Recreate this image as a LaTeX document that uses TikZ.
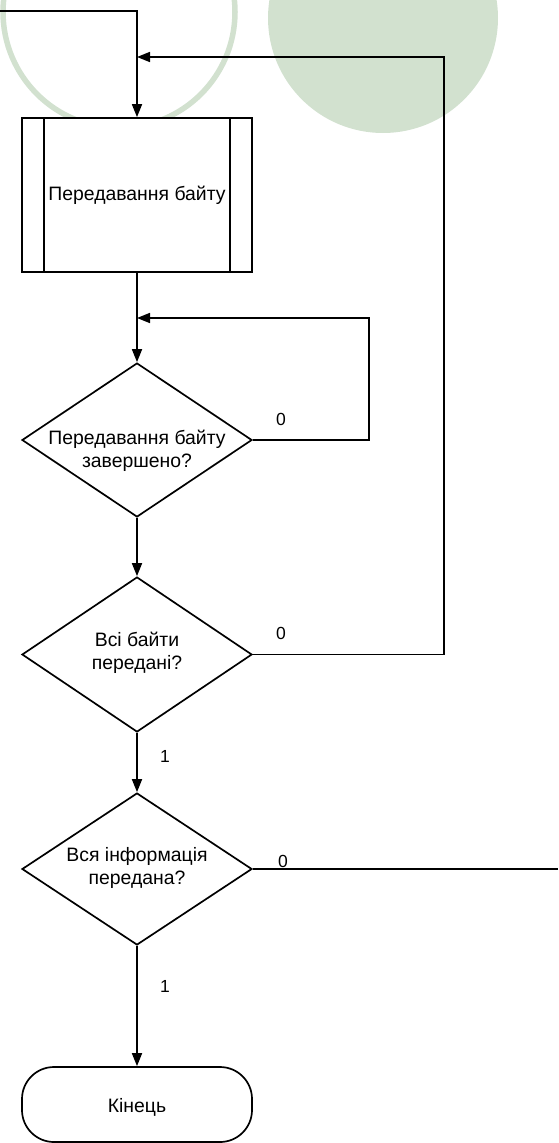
\documentclass[tikz,border=0pt]{standalone}
\usepackage{fontspec}
\setmainfont{Liberation Sans}
\usetikzlibrary{arrows.meta,shapes.geometric,calc}
\definecolor{paleleaf}{RGB}{210,225,207}
\begin{document}
\begin{tikzpicture}[x=1pt,y=-1pt,
  line width=1.7pt, line join=miter,
  flow/.style={draw=black, -{Triangle[length=13pt,width=10pt]}},
  plain/.style={draw=black},
  subproc/.style={draw, fill=white, minimum width=230pt, minimum height=154pt, inner sep=0pt,
                  font=\fontsize{19.4}{23}\selectfont},
  decision/.style={draw, fill=white, diamond, inner sep=0pt, minimum width=230pt},
  terminal/.style={draw, fill=white, rounded corners=32pt, minimum width=230pt, minimum height=75pt,
                   inner sep=0pt},
  txt/.style={align=center, inner sep=0pt, font=\fontsize{19.4}{23}\selectfont},
  lbl/.style={inner sep=0pt, font=\fontsize{17.5}{20}\selectfont}]
\useasboundingbox (0,0) rectangle (558,1143);

% decorative background circles
\fill[paleleaf] (383,18) circle[radius=115];
\draw[paleleaf, line width=5.5pt] (119,12) circle[radius=116];

% blocks
\node[subproc] (p) at (137,195) {Передавання байту};
\draw ($(p.north west)+(23,0)$) -- ($(p.south west)+(23,0)$);
\draw ($(p.north east)+(-23,0)$) -- ($(p.south east)+(-23,0)$);

\node[decision, minimum height=154pt] (d1) at (137,440) {};
\node[txt] (t1) at (137,450.5) {Передавання байту\\завершено?};

\node[decision, minimum height=155pt] (d2) at (137,654.5) {};
\node[txt] (t2) at (137,653) {Всі байти\\передані?};

\node[decision, minimum height=152pt] (d3) at (137,869) {};
\node[txt] (t3) at (137,868) {Вся інформація\\передана?};

\node[terminal] (e) at (137,1104.5) {};
\node[txt] (te) at (137,1107) {Кінець};

% connectors
\coordinate (in) at (0,11);
\coordinate (j1) at (137,57);
\coordinate (j2) at (137,318);
\coordinate (out) at (558,869);

\draw[flow] (in) -| (p.north);
\draw[flow] (d2.east) -- ++(191,0) |- (j1);
\draw[flow] (p.south) -- (d1.north);
\draw[flow] (d1.east) -- ++(116,0) |- (j2);
\draw[flow] (d1.south) -- (d2.north);
\draw[flow] (d2.south) -- (d3.north);
\draw[plain] (d3.east) -- (out);
\draw[flow] (d3.south) -- (e.north);

% branch labels
\node[lbl] (z1) at (281,419.5) {0};
\node[lbl] (z2) at (281,633) {0};
\node[lbl] (z3) at (283,861) {0};
\node[lbl] (o1) at (165,756) {1};
\node[lbl] (o2) at (165,986) {1};
\end{tikzpicture}
\end{document}
